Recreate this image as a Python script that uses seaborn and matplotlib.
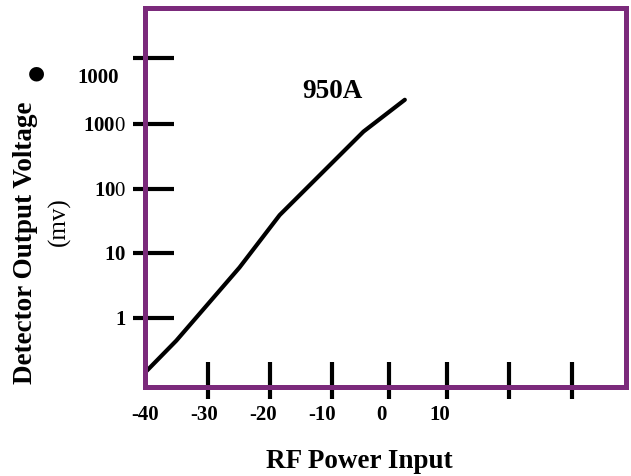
import matplotlib
matplotlib.use("Agg")
import matplotlib.pyplot as plt
import seaborn as sns
import pandas as pd

# curve (RF power in dBm, detector output in mV)
power_dbm = [-39.7, -34.7, -24.0, -17.2, -3.0, 4.0]
output_mv = [0.15, 0.44, 6.0, 39, 770, 2400]

x_tick_vals = [-40, -30, -20, -10, 0, 10]
x_tick_labels = ["-40", "-30", "-20", "-10", "0", "10"]
x_marks = [-29.4, -18.8, -8.4, 1.4, 11.1, 21.7, 32.3]

y_tick_vals = [1, 10, 100, 1000]
y_tick_labels = [r"$\mathbf{1}$", r"$\mathbf{10}$", r"$\mathbf{10}$0", r"$\mathbf{100}$0"]
y_marks = [1, 10, 100, 1000, 10800]
y_extra_val = [5670]
y_extra_label = ["1000"]

purple = "#7B2A7B"

sns.set_style("white", {"text.color": "black", "xtick.color": "black",
                        "ytick.color": "black", "axes.labelcolor": "black"})
plt.rcParams["font.family"] = ["Liberation Serif", "DejaVu Serif"]
plt.rcParams["mathtext.fontset"] = "custom"
plt.rcParams["mathtext.rm"] = "Liberation Serif"
plt.rcParams["mathtext.bf"] = "Liberation Serif:bold"

fig = plt.figure(figsize=(6.31, 4.76), dpi=100)
ax = fig.add_axes([0.2298, 0.187, 0.7622, 0.7956])

df = pd.DataFrame({"power": power_dbm, "mv": output_mv})
sns.lineplot(data=df, x="power", y="mv", color="black", linewidth=3, ax=ax)

ax.set_yscale("log")
ax.set_xlim(-39.66, 41.45)
ax.set_ylim(0.0841, 63000)

for s in ax.spines.values():
    s.set_color(purple)
    s.set_linewidth(3.6)

# tick marks
ax.hlines(y_marks, -0.025, 0.0603, transform=ax.get_yaxis_transform(),
          color="black", linewidth=3, clip_on=False)
ax.vlines(x_marks, -0.0325, 0.0668, transform=ax.get_xaxis_transform(),
          color="black", linewidth=3, clip_on=False)

ax.set_xticks(x_tick_vals, x_tick_labels, fontweight="bold", fontsize=15)
ax.set_yticks(y_tick_vals, y_tick_labels, fontsize=15)
ax.set_yticks(y_extra_val, y_extra_label, minor=True, fontweight="bold", fontsize=15)
ax.tick_params(axis="both", which="both", colors="black")
ax.tick_params(axis="x", length=0, pad=13)
ax.tick_params(axis="y", which="major", length=0, pad=13.5)
ax.tick_params(axis="y", which="minor", length=0, pad=19)
ax.set_xlabel("")
ax.set_ylabel("")

ax.text(-8.2, 3200, "950A", fontsize=19.5, fontweight="bold", color="black",
        ha="center", va="center")

fig.text(0.569, 0.0315, "RF Power Input", fontsize=19.5, fontweight="bold",
         color="black", ha="center", va="center")
fig.text(0.041, 0.489, "Detector Output Voltage", fontsize=19.5, fontweight="bold",
         color="black", rotation=90, ha="center", va="center")
fig.text(0.0935, 0.534, "(mv)", fontsize=18, color="black", rotation=90,
         ha="center", va="center")
fig.text(0.057, 0.847, "●", fontsize=14, family="DejaVu Sans", color="black",
         ha="center", va="center")

fig.savefig("out.png", dpi=100)
